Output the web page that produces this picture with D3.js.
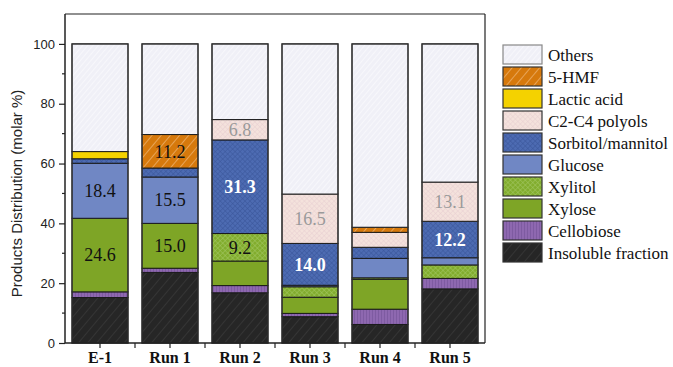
<!DOCTYPE html>
<html>
<head>
<meta charset="utf-8">
<script src="https://cdn.jsdelivr.net/npm/d3@7"></script>
<style>
  html, body { margin: 0; padding: 0; background: #fff; }
  svg { display: block; }
</style>
</head>
<body>
<svg id="chart" width="673" height="367"></svg>
<script>
// Runs / samples along the x axis
const categories = ["E-1", "Run 1", "Run 2", "Run 3", "Run 4", "Run 5"];

// Product fractions (molar %), stacked bottom to top
const insoluble  = [15.2, 23.6, 16.8,  8.8,  6.2, 18.1];
const cellobiose = [ 1.9,  1.4,  2.4,  1.1,  5.1,  3.5];
const xylose     = [24.6, 15.0,  8.2,  5.4, 10.0,  0.0];
const xylitol    = [ 0.0,  0.0,  9.2,  3.5,  0.5,  4.5];
const glucose    = [18.4, 15.5,  0.0,  0.5,  6.5,  2.4];
const sorbitol   = [ 1.5,  3.0, 31.3, 14.0,  3.7, 12.2];
const polyols    = [ 0.0,  0.0,  6.8, 16.5,  5.0, 13.1];
const lactic     = [ 2.4,  0.0,  0.0,  0.0,  0.0,  0.0];
const hmf        = [ 0.0, 11.2,  0.0,  0.0,  1.7,  0.0];
const others     = [36.0, 30.3, 25.3, 50.2, 61.3, 46.2];

const yTicks = [0, 20, 40, 60, 80, 100];

// Segments that carry a value label: [series key, category]
const valueLabels = [
  ["glucose", "E-1"], ["xylose", "E-1"],
  ["hmf", "Run 1"], ["glucose", "Run 1"], ["xylose", "Run 1"],
  ["polyols", "Run 2"], ["sorbitol", "Run 2"], ["xylitol", "Run 2"],
  ["polyols", "Run 3"], ["sorbitol", "Run 3"],
  ["polyols", "Run 5"], ["sorbitol", "Run 5"]
];

const SERIF = '"Liberation Serif", Tinos, "Times New Roman", Times, serif';
const SANS = '"Liberation Sans", Arimo, Arial, Helvetica, sans-serif';

const seriesDefs = [
  { key: "insoluble",  name: "Insoluble fraction", values: insoluble,  fill: "url(#pInsoluble)" },
  { key: "cellobiose", name: "Cellobiose",         values: cellobiose, fill: "url(#pCellobiose)" },
  { key: "xylose",     name: "Xylose",             values: xylose,     fill: "#7ea526" },
  { key: "xylitol",    name: "Xylitol",            values: xylitol,    fill: "url(#pXylitol)" },
  { key: "glucose",    name: "Glucose",            values: glucose,    fill: "#7087c4" },
  { key: "sorbitol",   name: "Sorbitol/mannitol",  values: sorbitol,   fill: "url(#pSorbitol)" },
  { key: "polyols",    name: "C2-C4 polyols",      values: polyols,    fill: "url(#pPolyols)" },
  { key: "lactic",     name: "Lactic acid",        values: lactic,     fill: "#f4d200" },
  { key: "hmf",        name: "5-HMF",              values: hmf,        fill: "url(#pHmf)" },
  { key: "others",     name: "Others",             values: others,     fill: "url(#pOthers)" }
];

const labelStyle = {
  sorbitol: { color: "#ffffff", weight: "bold" },
  polyols:  { color: "#9a9a9a", weight: "normal" }
};

const svg = d3.select("#chart");
const defs = svg.append("defs");

// Fill patterns
function stripes(id, bg, line, size, width, angle) {
  const p = defs.append("pattern").attr("id", id)
    .attr("patternUnits", "userSpaceOnUse").attr("width", size).attr("height", size)
    .attr("patternTransform", `rotate(${angle})`);
  p.append("rect").attr("width", size).attr("height", size).attr("fill", bg);
  p.append("line").attr("x1", 0).attr("y1", 0).attr("x2", 0).attr("y2", size)
    .attr("stroke", line).attr("stroke-width", width);
}
function cross(id, bg, line, size, width) {
  const p = defs.append("pattern").attr("id", id)
    .attr("patternUnits", "userSpaceOnUse").attr("width", size).attr("height", size)
    .attr("patternTransform", "rotate(45)");
  p.append("rect").attr("width", size).attr("height", size).attr("fill", bg);
  p.append("line").attr("x1", 0).attr("y1", 0).attr("x2", 0).attr("y2", size)
    .attr("stroke", line).attr("stroke-width", width);
  p.append("line").attr("x1", 0).attr("y1", 0).attr("x2", size).attr("y2", 0)
    .attr("stroke", line).attr("stroke-width", width);
}
stripes("pOthers", "#f0f0f7", "#ffffff", 4, 1, 40);
stripes("pHmf", "#d6790c", "#f3c28a", 7, 1.2, 40);
stripes("pInsoluble", "#262626", "#444444", 7, 1, 40);
stripes("pCellobiose", "#8e68b0", "#6f4e92", 3, 1, 0);
cross("pSorbitol", "#4d6bb2", "#3a559a", 3.5, 1);
cross("pXylitol", "#82ad2e", "#a3c865", 3.5, 1);
cross("pPolyols", "#f4e2dc", "#e8cfd2", 3.5, 1);

const plot = { left: 65, right: 485, top: 14, bottom: 343 };

const x = d3.scaleBand().domain(categories)
  .range([plot.left, plot.right]).paddingInner(0.2).paddingOuter(0.1);
const y = d3.scaleLinear().domain([0, 110]).range([plot.bottom, plot.top]);

// Build rows for stacking
const rows = categories.map((c, i) => {
  const r = { category: c };
  seriesDefs.forEach(s => { r[s.key] = s.values[i]; });
  return r;
});
const stack = d3.stack().keys(seriesDefs.map(s => s.key));
const stacked = stack(rows);

const gBars = svg.append("g");
stacked.forEach((layer, li) => {
  const s = seriesDefs[li];
  gBars.append("g").selectAll("rect")
    .data(layer.filter(d => d[1] - d[0] > 0))
    .join("rect")
    .attr("x", d => x(d.data.category))
    .attr("y", d => y(d[1]))
    .attr("width", x.bandwidth())
    .attr("height", d => y(d[0]) - y(d[1]))
    .attr("fill", s.fill)
    .attr("stroke", "#1a1a1a")
    .attr("stroke-width", 1);
});

// Bar outlines
gBars.append("g").selectAll("rect")
  .data(rows)
  .join("rect")
  .attr("x", d => x(d.category))
  .attr("y", d => y(d3.sum(seriesDefs, s => d[s.key])))
  .attr("width", x.bandwidth())
  .attr("height", d => y(0) - y(d3.sum(seriesDefs, s => d[s.key])))
  .attr("fill", "none")
  .attr("stroke", "#333")
  .attr("stroke-width", 1.2);

// Value labels
const gLabels = svg.append("g");
valueLabels.forEach(([key, cat]) => {
  const li = seriesDefs.findIndex(s => s.key === key);
  const d = stacked[li].find(e => e.data.category === cat);
  const st = labelStyle[key] || { color: "#111", weight: "normal" };
  gLabels.append("text")
    .style("font-family", SERIF)
    .attr("x", x(cat) + x.bandwidth() / 2)
    .attr("y", y((d[0] + d[1]) / 2))
    .attr("dy", "0.35em")
    .attr("text-anchor", "middle")
    .style("font-size", "18px")
    .style("font-weight", st.weight)
    .attr("fill", st.color)
    .text(seriesDefs[li].values[categories.indexOf(cat)].toFixed(1));
});

// Frame
svg.append("line").attr("x1", plot.left).attr("x2", plot.right)
  .attr("y1", plot.top).attr("y2", plot.top).attr("stroke", "#222").attr("stroke-width", 1.2);
svg.append("line").attr("x1", plot.right).attr("x2", plot.right)
  .attr("y1", plot.top).attr("y2", plot.bottom).attr("stroke", "#222").attr("stroke-width", 1.2);

// Y axis
const yAxis = d3.axisLeft(y).tickValues(yTicks).tickSize(6).tickPadding(4);
const gy = svg.append("g").attr("transform", `translate(${plot.left},0)`).call(yAxis);
gy.select(".domain").attr("stroke", "#222").attr("stroke-width", 1.5)
  .attr("d", `M0,${plot.bottom}V${plot.top}`);
gy.selectAll(".tick line").attr("stroke", "#222").attr("stroke-width", 1.2);
gy.selectAll(".tick text")
  .style("font-family", SANS)
  .style("font-size", "13px").attr("fill", "#222");
// minor ticks
gy.selectAll(".minor").data([10, 30, 50, 70, 90]).join("line")
  .attr("class", "minor")
  .attr("x1", -3).attr("x2", 0)
  .attr("y1", d => y(d)).attr("y2", d => y(d))
  .attr("stroke", "#222").attr("stroke-width", 1.2);

// X axis
const xAxis = d3.axisBottom(x).tickSize(5).tickPadding(4);
const gx = svg.append("g").attr("transform", `translate(0,${plot.bottom})`).call(xAxis);
gx.select(".domain").attr("stroke", "#222").attr("stroke-width", 1.5)
  .attr("d", `M${plot.left},0H${plot.right}`);
gx.selectAll(".tick line").attr("stroke", "#222").attr("stroke-width", 1.2);
gx.selectAll(".tick text")
  .style("font-family", SERIF)
  .style("font-weight", "bold")
  .style("font-size", "16px").attr("fill", "#111");
// ticks between categories
gx.selectAll(".between").data(categories.slice(1)).join("line")
  .attr("class", "between")
  .attr("x1", d => x(d) - x.step() * x.paddingInner() / 2)
  .attr("x2", d => x(d) - x.step() * x.paddingInner() / 2)
  .attr("y1", 0).attr("y2", 5)
  .attr("stroke", "#222").attr("stroke-width", 1.2);

// Y axis title
svg.append("text")
  .style("font-family", SANS)
  .attr("transform", `translate(22,${(y(0) + y(100)) / 2}) rotate(-90)`)
  .attr("text-anchor", "middle")
  .style("font-size", "15px").attr("fill", "#222")
  .text("Products Distribution (molar %)");

// Legend (top entry = top of stack)
const legendItems = seriesDefs.slice().reverse();
const gLeg = svg.append("g").attr("transform", "translate(503,45)");
legendItems.forEach((s, i) => {
  const g = gLeg.append("g").attr("transform", `translate(0,${i * 22})`);
  g.append("rect").attr("width", 39).attr("height", 19)
    .attr("fill", s.fill)
    .attr("stroke", s.key === "others" ? "#888" : "#333")
    .attr("stroke-width", 1.2);
  g.append("text")
    .style("font-family", SERIF)
    .attr("x", 45).attr("y", 10).attr("dy", "0.35em")
    .style("font-size", "17px").attr("fill", "#111")
    .text(s.name);
});
</script>
</body>
</html>
